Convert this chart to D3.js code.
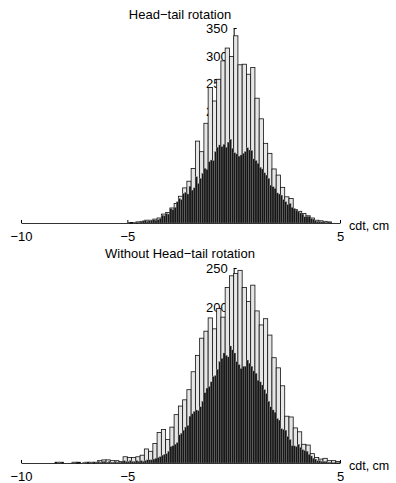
<!DOCTYPE html>
<html>
<head>
<meta charset="utf-8">
<script src="https://cdn.jsdelivr.net/npm/d3@7/dist/d3.min.js"></script>
<style>
  body { margin: 0; background: #fff; }
  svg text { font-family: "Liberation Sans", Arial, sans-serif; }
</style>
</head>
<body>
<div id="chart"></div>
<script>
// x ticks shared by both panels
const xTickValues = [-10, -5, 0, 5];

// top panel: light bins are 0.2 wide, dark bins 0.1 wide
const topLightStart = -5.0;
const topLightWidth = 0.2;
const topLightCounts = [1, 1, 2, 3, 5, 5, 7, 9, 16, 19,
  27, 35, 48, 63, 75, 98, 147, 128, 179, 243,
  219, 258, 291, 314, 299, 336, 284, 285, 267, 279,
  224, 187, 143, 125, 97, 86, 64, 47, 44, 24,
  21, 17, 13, 9, 5, 4, 3, 2];

const topDarkStart = -5.0;
const topDarkWidth = 0.1;
const topDarkCounts = [1, 0, 0, 1, 0, 1, 2, 4, 5, 3,
  4, 5, 6, 5, 6, 8, 14, 13, 17, 16,
  26, 24, 28, 38, 44, 42, 53, 55, 52, 66,
  59, 63, 83, 71, 80, 89, 98, 96, 110, 113,
  112, 128, 136, 140, 137, 141, 136, 145, 150, 134,
  126, 124, 120, 122, 125, 128, 135, 131, 130, 115,
  112, 107, 100, 97, 90, 86, 80, 68, 65, 62,
  54, 52, 50, 42, 38, 33, 35, 28, 26, 23,
  20, 18, 16, 11, 12, 12, 8, 7, 4, 3,
  3, 2, 2, 1, 2];
const topYTicks = [50, 100, 150, 200, 250, 300, 350];

// bottom panel
const bottomLightStart = -8.6;
const bottomLightWidth = 0.2;
const bottomLightCounts = [0, 1, 1, 0, 0, 1, 1, 0, 1, 1,
  1, 3, 4, 4, 3, 3, 2, 8, 7, 7,
  8, 10, 18, 15, 25, 39, 43, 30, 46, 62,
  73, 81, 94, 117, 138, 160, 169, 186, 172, 198,
  187, 225, 240, 243, 247, 225, 207, 228, 195, 177,
  185, 164, 135, 122, 99, 60, 59, 45, 40, 24,
  23, 12, 7, 5, 6, 3, 3, 2];

const bottomDarkStart = -8.5;
const bottomDarkWidth = 0.1;
const bottomDarkCounts = [0, 0, 1, 1, 0, 0, 0, 0, 0, 1,
  1, 0, 0, 0, 1, 1, 0, 1, 1, 0,
  1, 2, 1, 2, 2, 1, 2, 1, 1, 2,
  1, 1, 2, 3, 2,
  2, 3, 2, 2, 3, 2, 3, 2, 3, 4,
  4, 4, 5, 6, 7, 8, 10, 11, 12, 15,
  21, 22, 24, 26, 36, 38, 42, 46, 48, 60,
  63, 66, 68, 67, 72, 79, 90, 96, 98, 104,
  111, 112, 120, 130, 134, 141, 138, 136, 150, 145,
  141, 130, 126, 121, 124, 124, 132, 128, 124, 118,
  115, 106, 104, 100, 94, 89, 79, 72, 68, 65,
  57, 55, 44, 43, 42, 34, 30, 22, 22, 21,
  24, 20, 17, 16, 15, 11, 9, 6, 5, 3,
  3, 2, 2, 2, 1, 1];
const bottomYTicks = [50, 100, 150, 200, 250];

const width = 396, height = 483;

const svg = d3.select('#chart').append('svg')
  .attr('width', width)
  .attr('height', height);

const x = d3.scaleLinear().domain([-10, 5]).range([21, 340]);

const panels = [
  { title: 'Head\u2212tail rotation', titleY: 19, base: 223, top: 28, max: 350, yTicks: topYTicks,
    light: { start: topLightStart, w: topLightWidth, counts: topLightCounts },
    dark: { start: topDarkStart, w: topDarkWidth, counts: topDarkCounts } },
  { title: 'Without Head\u2212tail rotation', titleY: 258, base: 463, top: 268, max: 250, yTicks: bottomYTicks,
    light: { start: bottomLightStart, w: bottomLightWidth, counts: bottomLightCounts },
    dark: { start: bottomDarkStart, w: bottomDarkWidth, counts: bottomDarkCounts } }
];

function bins(s) {
  return s.counts.map((c, i) => ({ x0: s.start + i * s.w, x1: s.start + (i + 1) * s.w, c: c }))
    .filter(d => d.c > 0);
}

panels.forEach(p => {
  const y = d3.scaleLinear().domain([0, p.max]).range([p.base, p.top]);
  const g = svg.append('g');

  // axes go under the bars
  const xAxis = d3.axisBottom(x)
    .tickValues(xTickValues)
    .tickSizeInner(-3)
    .tickSizeOuter(0)
    .tickPadding(8.5)
    .tickFormat(d => d === 0 ? '' : d3.format('d')(d));

  const yAxis = d3.axisLeft(y)
    .tickValues(p.yTicks)
    .tickSizeInner(-3)
    .tickSizeOuter(0)
    .tickPadding(6);

  const gx = g.append('g')
    .attr('transform', 'translate(0,' + p.base + ')')
    .call(xAxis);
  gx.select('.domain').attr('stroke', '#333');
  gx.selectAll('text').attr('font-size', 13).attr('fill', '#000').attr('font-family', '"Liberation Sans", Arial, sans-serif');

  const gy = g.append('g')
    .attr('transform', 'translate(' + x(0) + ',0)')
    .call(yAxis);
  gy.selectAll('text').attr('font-size', 13).attr('fill', '#000').attr('font-family', '"Liberation Sans", Arial, sans-serif');

  g.append('text')
    .attr('x', 180)
    .attr('y', p.titleY)
    .attr('text-anchor', 'middle')
    .attr('font-size', 13)
    .text(p.title);

  g.append('text')
    .attr('x', 349)
    .attr('y', p.base + 6.5)
    .attr('font-size', 12.5)
    .text('cdt, cm');

  g.selectAll('.light')
    .data(bins(p.light))
    .enter().append('rect')
    .attr('class', 'light')
    .attr('x', d => x(d.x0))
    .attr('width', d => x(d.x1) - x(d.x0))
    .attr('y', d => y(d.c))
    .attr('height', d => y(0) - y(d.c))
    .attr('fill', '#e6e6e6')
    .attr('stroke', '#111')
    .attr('stroke-width', 0.8);

  g.selectAll('.dark')
    .data(bins(p.dark))
    .enter().append('rect')
    .attr('class', 'dark')
    .attr('x', d => x(d.x0))
    .attr('width', d => x(d.x1) - x(d.x0))
    .attr('y', d => y(d.c))
    .attr('height', d => y(0) - y(d.c))
    .attr('fill', '#161616')
    .attr('stroke', '#888')
    .attr('stroke-width', 0.35);
});
</script>
</body>
</html>
